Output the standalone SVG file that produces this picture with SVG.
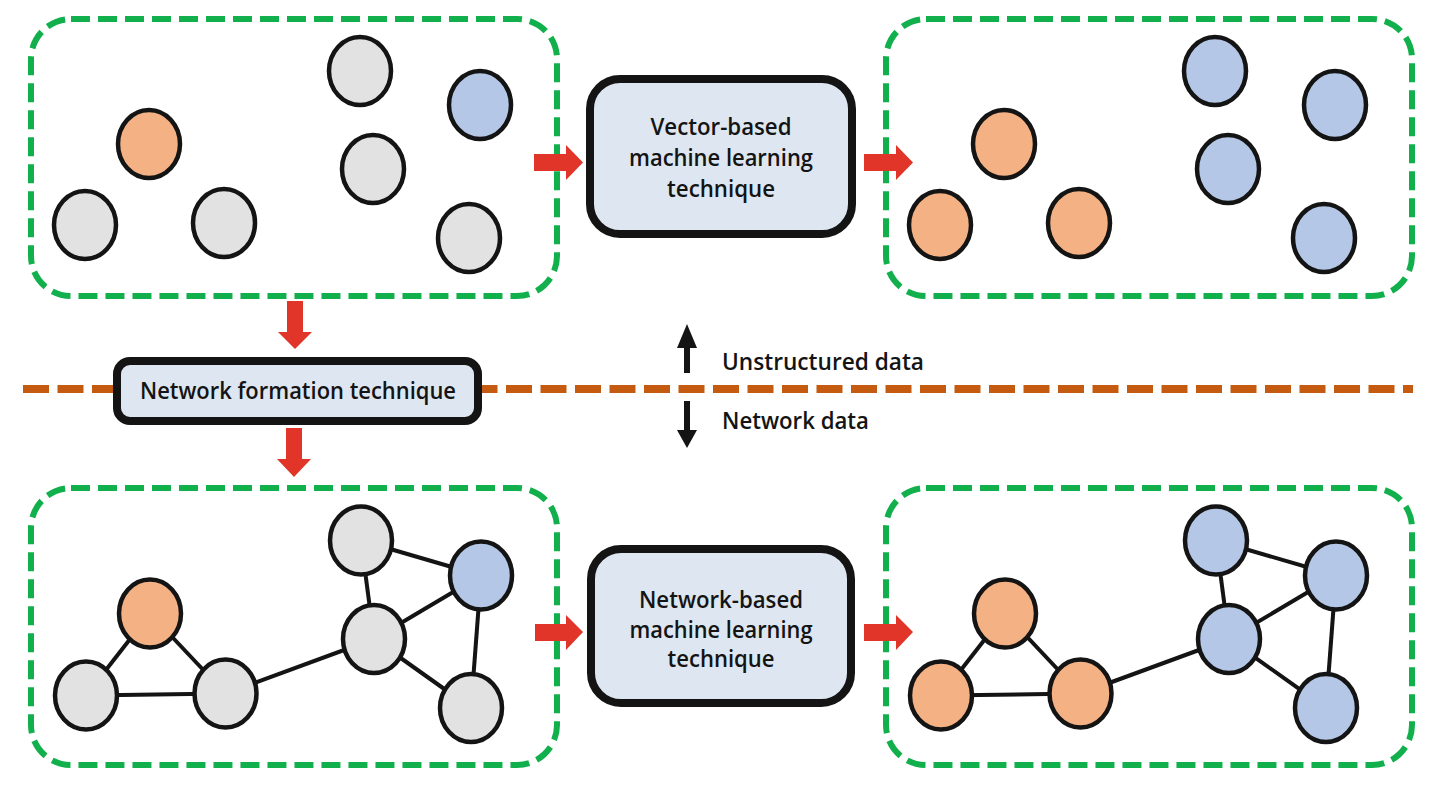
<svg xmlns="http://www.w3.org/2000/svg" width="1436" height="786" viewBox="0 0 1436 786">
<style>
.panel{fill:none;stroke:#12b04c;stroke-width:6;stroke-dasharray:19 8}
.box{fill:#dee7f1;stroke:#141414;stroke-width:8}
.g{fill:#e2e2e2;stroke:#141414;stroke-width:4.5}
.o{fill:#f4b183;stroke:#141414;stroke-width:4.5}
.b{fill:#b4c7e7;stroke:#141414;stroke-width:4.5}
.edge{stroke:#141414;stroke-width:4;fill:none}
.red{fill:#e03528}
.blk{fill:#141414}
.t{font-family:"Open Sans","Liberation Sans",sans-serif;font-size:23px;font-weight:600;fill:#141414}
.c{text-anchor:middle}
</style>
<rect width="1436" height="786" fill="#ffffff"/>

<!-- divider -->
<line x1="23" y1="389" x2="1413" y2="389" stroke="#c55a11" stroke-width="8" stroke-dasharray="26 8.5"/>

<!-- panels -->
<g id="panel-top-left"><rect class="panel" x="31" y="19" width="526" height="277" rx="40"/></g>
<g id="panel-top-right"><rect class="panel" x="886" y="19" width="526" height="277" rx="40"/></g>
<g id="panel-bottom-left"><rect class="panel" x="31" y="488" width="526" height="277" rx="40"/></g>
<g id="panel-bottom-right"><rect class="panel" x="886" y="488" width="526" height="277" rx="40"/></g>

<!-- connectors -->
<g id="connectors">
  <!-- bottom-left network edges -->
  <line class="edge" x1="150" y1="613.5" x2="86" y2="695.5"/>
  <line class="edge" x1="150" y1="613.5" x2="225.5" y2="693.5"/>
  <line class="edge" x1="86" y1="695.5" x2="225.5" y2="693.5"/>
  <line class="edge" x1="225.5" y1="693.5" x2="374" y2="639"/>
  <line class="edge" x1="361" y1="540.5" x2="374" y2="639"/>
  <line class="edge" x1="361" y1="540.5" x2="481" y2="575.5"/>
  <line class="edge" x1="481" y1="575.5" x2="374" y2="639"/>
  <line class="edge" x1="481" y1="575.5" x2="471" y2="708"/>
  <line class="edge" x1="374" y1="639" x2="471" y2="708"/>
  <!-- bottom-right network edges -->
  <line class="edge" x1="1005" y1="613.5" x2="941" y2="695.5"/>
  <line class="edge" x1="1005" y1="613.5" x2="1080.5" y2="693.5"/>
  <line class="edge" x1="941" y1="695.5" x2="1080.5" y2="693.5"/>
  <line class="edge" x1="1080.5" y1="693.5" x2="1229" y2="639"/>
  <line class="edge" x1="1216" y1="540.5" x2="1229" y2="639"/>
  <line class="edge" x1="1216" y1="540.5" x2="1336" y2="575.5"/>
  <line class="edge" x1="1336" y1="575.5" x2="1229" y2="639"/>
  <line class="edge" x1="1336" y1="575.5" x2="1326" y2="708"/>
  <line class="edge" x1="1229" y1="639" x2="1326" y2="708"/>
  <!-- red flow arrows -->
  <polygon class="red" points="534,154 566,154 566,145 583,162.5 566,180 566,171 534,171"/>
  <polygon class="red" points="864,154 896,154 896,145 913,162.5 896,180 896,171 864,171"/>
  <polygon class="red" points="535,624 566,624 566,615 583,632 566,650 566,641 535,641"/>
  <polygon class="red" points="864,624 896,624 896,615 913,632 896,650 896,641 864,641"/>
  <polygon class="red" points="287,301 303,301 303,332 312,332 295,349 278,332 287,332"/>
  <polygon class="red" points="286,428 302,428 302,459 311,459 294,477 277,459 286,459"/>
  <!-- black direction arrows -->
  <polygon class="blk" points="684,373 690,373 690,348 697,348 687,324 677,348 684,348"/>
  <polygon class="blk" points="684,401 690,401 690,430 697,430 687,448 677,430 684,430"/>
</g>

<!-- top-left nodes -->
<g id="tl-orange"><ellipse class="o" cx="149" cy="144" rx="31" ry="34"/></g>
<g id="tl-grey1"><ellipse class="g" cx="85" cy="225" rx="31" ry="34"/></g>
<g id="tl-grey2"><ellipse class="g" cx="224" cy="223" rx="31" ry="34"/></g>
<g id="tl-grey3"><ellipse class="g" cx="360" cy="71" rx="31" ry="34"/></g>
<g id="tl-blue"><ellipse class="b" cx="480" cy="105" rx="31" ry="34"/></g>
<g id="tl-grey4"><ellipse class="g" cx="373" cy="169" rx="31" ry="34"/></g>
<g id="tl-grey5"><ellipse class="g" cx="469" cy="238" rx="31" ry="34"/></g>

<!-- top-right nodes -->
<g id="tr-orange1"><ellipse class="o" cx="1004" cy="144" rx="31" ry="34"/></g>
<g id="tr-orange2"><ellipse class="o" cx="940" cy="225" rx="31" ry="34"/></g>
<g id="tr-orange3"><ellipse class="o" cx="1079" cy="223" rx="31" ry="34"/></g>
<g id="tr-blue1"><ellipse class="b" cx="1215" cy="71" rx="31" ry="34"/></g>
<g id="tr-blue2"><ellipse class="b" cx="1335" cy="105" rx="31" ry="34"/></g>
<g id="tr-blue3"><ellipse class="b" cx="1228" cy="169" rx="31" ry="34"/></g>
<g id="tr-blue4"><ellipse class="b" cx="1324" cy="238" rx="31" ry="34"/></g>

<!-- bottom-left nodes -->
<g id="bl-orange"><ellipse class="o" cx="150" cy="613.5" rx="31" ry="34"/></g>
<g id="bl-grey1"><ellipse class="g" cx="86" cy="695.5" rx="31" ry="34"/></g>
<g id="bl-grey2"><ellipse class="g" cx="225.5" cy="693.5" rx="31" ry="34"/></g>
<g id="bl-grey3"><ellipse class="g" cx="361" cy="540.5" rx="31" ry="34"/></g>
<g id="bl-blue"><ellipse class="b" cx="481" cy="575.5" rx="31" ry="34"/></g>
<g id="bl-grey4"><ellipse class="g" cx="374" cy="639" rx="31" ry="34"/></g>
<g id="bl-grey5"><ellipse class="g" cx="471" cy="708" rx="31" ry="34"/></g>

<!-- bottom-right nodes -->
<g id="br-orange1"><ellipse class="o" cx="1005" cy="613.5" rx="31" ry="34"/></g>
<g id="br-orange2"><ellipse class="o" cx="941" cy="695.5" rx="31" ry="34"/></g>
<g id="br-orange3"><ellipse class="o" cx="1080.5" cy="693.5" rx="31" ry="34"/></g>
<g id="br-blue1"><ellipse class="b" cx="1216" cy="540.5" rx="31" ry="34"/></g>
<g id="br-blue2"><ellipse class="b" cx="1336" cy="575.5" rx="31" ry="34"/></g>
<g id="br-blue3"><ellipse class="b" cx="1229" cy="639" rx="31" ry="34"/></g>
<g id="br-blue4"><ellipse class="b" cx="1326" cy="708" rx="31" ry="34"/></g>

<!-- process boxes -->
<g id="vector-ml">
  <rect class="box" x="590" y="79" width="262" height="155" rx="30"/>
  <text class="t c" x="721" y="135" textLength="141" lengthAdjust="spacingAndGlyphs">Vector-based</text>
  <text class="t c" x="721" y="166" textLength="184" lengthAdjust="spacingAndGlyphs">machine learning</text>
  <text class="t c" x="721" y="197" textLength="108" lengthAdjust="spacingAndGlyphs">technique</text>
</g>
<g id="network-ml">
  <rect class="box" x="591" y="549" width="260" height="154" rx="30"/>
  <text class="t c" x="721" y="608" textLength="164" lengthAdjust="spacingAndGlyphs">Network-based</text>
  <text class="t c" x="721" y="638" textLength="183" lengthAdjust="spacingAndGlyphs">machine learning</text>
  <text class="t c" x="721" y="667" textLength="107" lengthAdjust="spacingAndGlyphs">technique</text>
</g>
<g id="network-formation">
  <rect class="box" x="117" y="361" width="361" height="60" rx="13"/>
  <text class="t c" x="298" y="399" textLength="316" lengthAdjust="spacingAndGlyphs">Network formation technique</text>
</g>

<!-- labels -->
<g id="label-unstructured"><text class="t" x="722" y="370" textLength="202" lengthAdjust="spacingAndGlyphs">Unstructured data</text></g>
<g id="label-network"><text class="t" x="722" y="429" textLength="147" lengthAdjust="spacingAndGlyphs">Network data</text></g>
</svg>
